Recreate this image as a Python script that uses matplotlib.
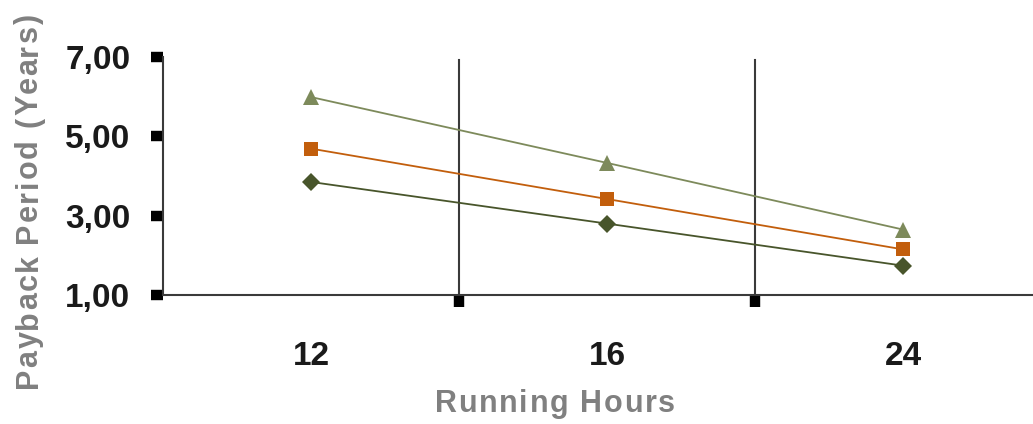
import matplotlib
matplotlib.use("Agg")
import matplotlib.pyplot as plt
from matplotlib.ticker import FixedLocator

# Payback period by daily running hours, three scenarios
hours = ["12", "16", "24"]
series_high = [5.99, 4.33, 2.65]
series_mid = [4.69, 3.42, 2.15]
series_low = [3.85, 2.80, 1.74]
y_ticks = [1, 3, 5, 7]
y_tick_labels = ["1,00", "3,00", "5,00", "7,00"]

plt.rcParams["font.family"] = ["Liberation Sans", "DejaVu Sans"]

W, H = 1033, 424
fig = plt.figure(figsize=(W / 100, H / 100), dpi=100)
ax = fig.add_axes([163 / W, 1 - 295 / H, (1051 - 163) / W, (295 - 57) / H])

x = range(len(hours))
ax.plot(x, series_high, color="#7d8a5b", lw=1.3, marker="^", ms=11,
        markeredgewidth=0, zorder=3)
ax.plot(x, series_mid, color="#c25e0c", lw=1.3, marker="s", ms=10,
        markeredgewidth=0, zorder=3)
ax.plot(x, series_low, color="#48552b", lw=1.3, marker="D", ms=9,
        markeredgewidth=0, zorder=3)

ax.set_xlim(-0.5, len(hours) - 0.5)
ax.set_ylim(1, 7)

# category labels centred, separators on the boundaries
ax.set_xticks(list(x))
ax.set_xticklabels(hours)
ax.xaxis.set_minor_locator(FixedLocator([0.5, 1.5]))
ax.tick_params(axis="x", which="major", length=0, pad=33,
               labelsize=24, labelcolor="#1a1a1a")
ax.tick_params(axis="x", which="minor", length=8.5, width=7.5,
               color="black", direction="out")
for xv in [0.5, 1.5]:
    ax.axvline(xv, ymax=0.987, color="#3a3a3a", lw=1.5, zorder=1)

ax.set_yticks(y_ticks)
ax.set_yticklabels(y_tick_labels)
ax.tick_params(axis="y", length=8.5, width=7.5, color="black",
               pad=15, labelsize=24, labelcolor="#1a1a1a")
for lab in ax.get_xticklabels() + ax.get_yticklabels():
    lab.set_fontweight("bold")

for side in ["top", "right"]:
    ax.spines[side].set_visible(False)
for side in ["left", "bottom"]:
    ax.spines[side].set_color("#3a3a3a")
    ax.spines[side].set_linewidth(1.5)

renderer = fig.canvas.get_renderer()
label_font = dict(fontsize=22, fontweight="bold", color="#808080")


def char_width(ch):
    """Advance width of one character in pixels at label_font."""
    probe = fig.text(0, 0, "H" + ch + "H", **label_font)
    base = fig.text(0, 0, "HH", **label_font)
    w = (probe.get_window_extent(renderer).width
         - base.get_window_extent(renderer).width)
    probe.remove()
    base.remove()
    return w


def spaced_text(s, cx, cy, tracking, vertical=False):
    """Draw s centred at pixel (cx, cy) with extra space between letters."""
    widths = [char_width(c) for c in s]
    total = sum(widths) + tracking * (len(s) - 1)
    pos = -total / 2
    for c, w in zip(s, widths):
        mid = pos + w / 2
        if vertical:
            px, py, rot = cx, cy - mid, 90
        else:
            px, py, rot = cx + mid, cy, 0
        fig.text(px / W, 1 - py / H, c, ha="center", va="center",
                 rotation=rot, **label_font)
        pos += w + tracking


spaced_text("Running Hours", 555, 404, 1.7)
spaced_text("Payback Period (Years)", 29, 201, 1.7, vertical=True)

fig.savefig("out.png", dpi=100)
